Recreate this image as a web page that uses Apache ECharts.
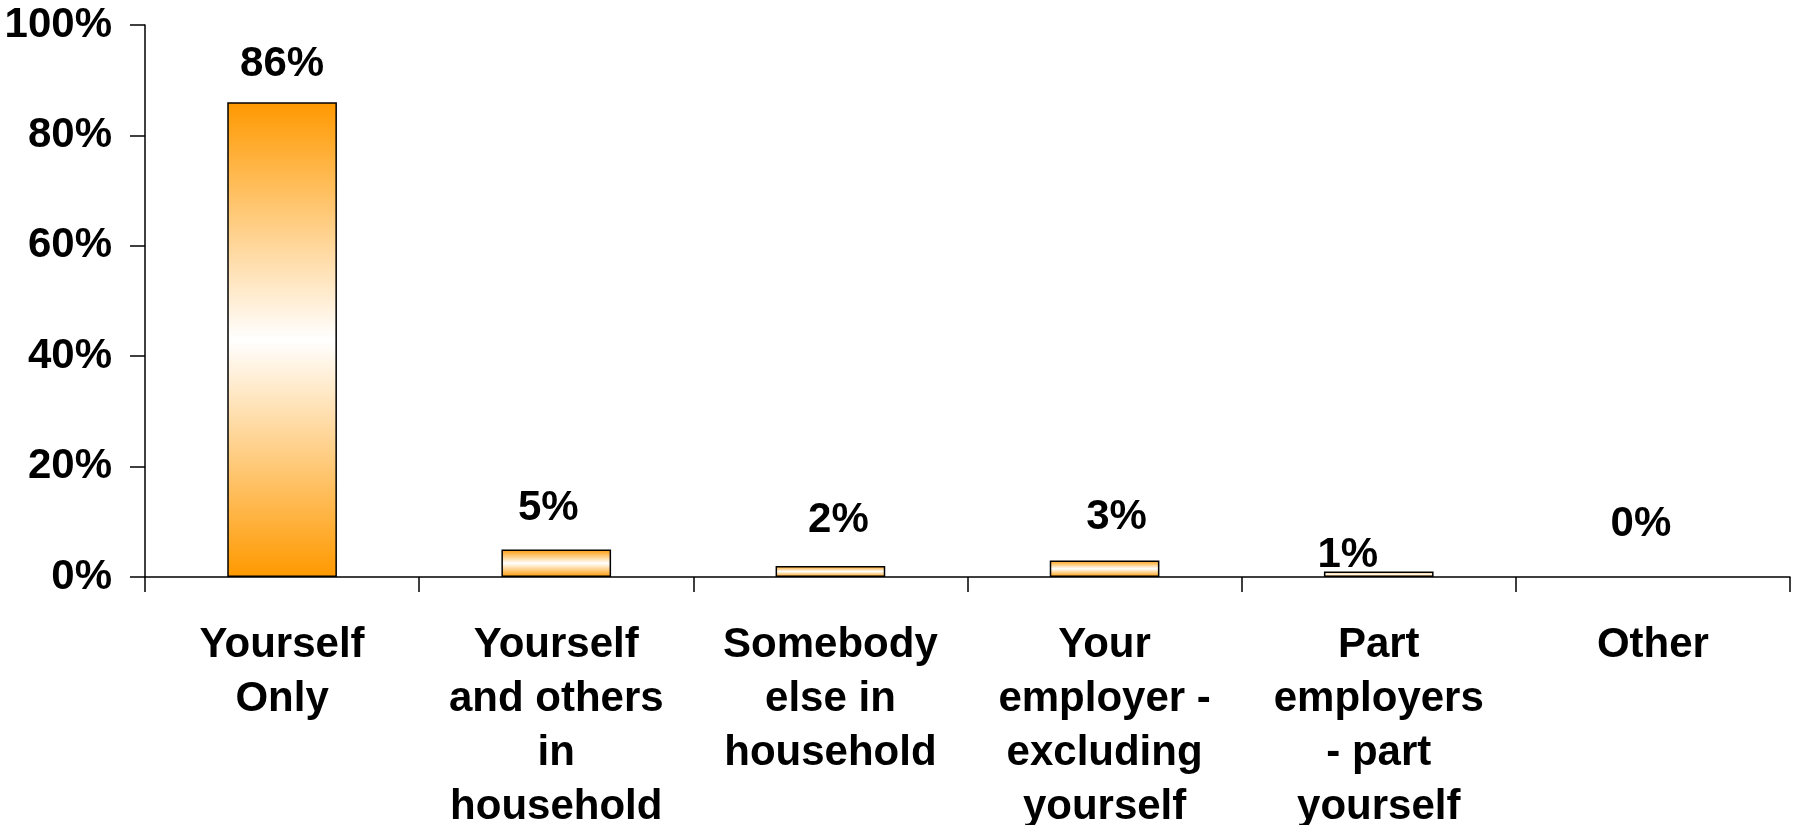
<!DOCTYPE html>
<html>
<head>
<meta charset="utf-8">
<script src="https://cdn.jsdelivr.net/npm/echarts@6/dist/echarts.min.js"></script>
<style>
html,body{margin:0;padding:0;background:#fff;}
#chart{width:1793px;height:825px;}
</style>
</head>
<body>
<div id="chart"></div>
<script>
const categories = [
  "Yourself\nOnly",
  "Yourself\nand others\nin\nhousehold",
  "Somebody\nelse in\nhousehold",
  "Your\nemployer -\nexcluding\nyourself",
  "Part\nemployers\n- part\nyourself",
  "Other"
];
const values = [86, 5, 2, 3, 1, 0];
const yTicks = [0, 20, 40, 60, 80, 100];

// label nudges (layout only), [dx, dy] in px
const labelNudges = [[0, 3], [-8, 0], [8, -5], [12, -2], [-31, 25], [-12, -12]];

const FONT = '"Liberation Sans", Arial, sans-serif';
const FS = 42;
const barFill = {
  type: 'linear', x: 0, y: 0, x2: 0, y2: 1,
  colorStops: [
    { offset: 0, color: '#ff9900' },
    { offset: 0.5, color: '#ffffff' },
    { offset: 1, color: '#ff9900' }
  ]
};

const chart = echarts.init(document.getElementById('chart'), null, { renderer: 'canvas' });
chart.setOption({
  animation: false,
  backgroundColor: '#ffffff',
  grid: { left: 145, right: 3, top: 25, bottom: 248, containLabel: false, outerBoundsMode: 'none' },
  xAxis: {
    type: 'category',
    data: categories,
    boundaryGap: true,
    axisLine: { show: true, lineStyle: { color: '#000', width: 1.5 } },
    axisTick: { show: true, length: 15, inside: false, lineStyle: { color: '#000', width: 1.5 } },
    axisLabel: {
      interval: 0, margin: 41, color: '#000',
      fontFamily: FONT, fontWeight: 'bold', fontSize: FS, lineHeight: 54, align: 'center'
    },
    splitLine: { show: false }
  },
  yAxis: {
    type: 'value',
    min: yTicks[0], max: yTicks[yTicks.length - 1], interval: yTicks[1] - yTicks[0],
    axisLine: { show: true, lineStyle: { color: '#000', width: 1.5 } },
    axisTick: { show: true, length: 15, inside: false, lineStyle: { color: '#000', width: 1.5 } },
    axisLabel: {
      margin: 33, color: '#000', fontFamily: FONT, fontWeight: 'bold', fontSize: FS,
      formatter: v => v + '%'
    },
    splitLine: { show: false }
  },
  series: [{
    type: 'bar',
    barWidth: '40%',
    data: values.map((v, i) => ({
      value: v,
      itemStyle: v === 0 ? { borderWidth: 0, opacity: 0 } : undefined,
      label: { offset: labelNudges[i], opacity: 1 }
    })),
    itemStyle: { color: barFill, borderColor: '#000', borderWidth: 1.5 },
    label: {
      show: true, position: 'top', distance: 20,
      color: '#000', fontFamily: FONT, fontWeight: 'bold', fontSize: FS, lineHeight: FS,
      formatter: p => p.value + '%'
    }
  }]
});
</script>
</body>
</html>
